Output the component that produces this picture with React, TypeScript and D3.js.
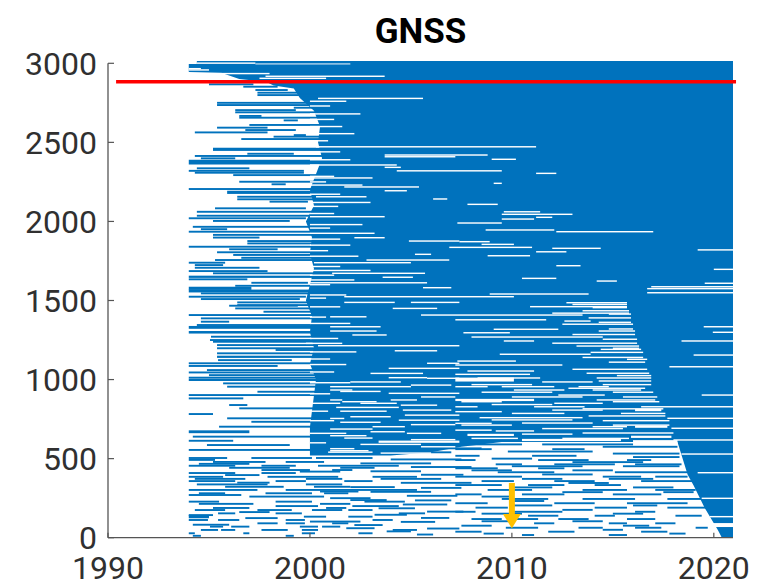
import React from "react";
import * as d3 from "d3";

// ---------- data ----------
const title = "GNSS";
const yearDomain: [number, number] = [1990, 2020.95];
const stationDomain: [number, number] = [0, 3000];
const yearTicks = [1990, 2000, 2010, 2020];
const stationTicks = [0, 500, 1000, 1500, 2000, 2500, 3000];

// reference line (station count) and marker (year)
const refStation = 2883;
const refYears: [number, number] = [1990.4, 2021.1];
const markerYear = 2010;
const markerStations = { top: 346, headBase: 150, tip: 59 };

// outline of the continuously-active block: [year, station]
const coreOutline: [number, number][] = [
  [1994.4, 3014], [2020.95, 3014], [2020.95, 0], [2020.4, 0], [2020.2, 49],
  [2019.55, 188], [2019.0, 330], [2018.7, 400], [2018.2, 605], [2009.5, 605],
  [2007.5, 575], [2006.0, 540], [2004.0, 520], [2000.0, 520],
  [2000.0, 700], [2000.3, 1000], [2000.0, 1100], [2000.2, 1200], [2000.0, 1300],
  [2000.1, 1400], [1999.8, 1500], [2000.0, 1600], [2000.2, 1700], [2000.0, 1800],
  [2000.1, 1900], [1999.8, 2000], [2000.2, 2100], [2000.0, 2200], [2000.3, 2300],
  [2000.6, 2400], [2000.4, 2500], [2000.5, 2600], [2000.2, 2700], [1999.5, 2780],
  [1999.2, 2840], [1998.2, 2860], [1997.8, 2885], [1996.5, 2900], [1995.6, 2940],
  [1994.0, 2945], [1994.0, 2995], [1994.4, 2995],
];

// active periods outside the block: [station, startYear, endYear, stationsThick?]
const activeUpper: number[][] = [
  [2867, 1995.0, 1997.2], [2852, 1996.7, 1998.4], [2831, 1997.3, 1998.9], [2814, 1997.4, 2001],
  [2799, 1997.4, 2001], [2750, 1995.4, 2001], [2736, 1995.4, 2001], [2719, 1999.2, 2001],
  [2704, 1996.3, 1999.3], [2690, 1996.3, 2001], [2667, 1996.5, 1997.6], [2656, 1996.5, 2001],
  [2639, 1998.7, 1999.4], [2610, 1997.0, 2001], [2593, 1995.4, 1997.9], [2578, 1996.8, 1999.3],
  [2563, 1994.3, 1997.9], [2546, 1999.2, 1999.8], [2536, 1998.2, 2001], [2521, 1996.6, 2001],
  [2456, 1995.2, 2001, 20], [2428, 1996.9, 1999.2], [2414, 1994.3, 2001], [2399, 1994.6, 1996.3],
  [2375, 1994.0, 2001, 30], [2336, 1994.4, 1997.0], [2320, 1994.0, 1999.7], [2308, 1994.3, 1999.7],
  [2293, 1996.2, 2001], [2251, 1996.5, 2001], [2235, 1998.1, 1998.8], [2205, 1994.0, 2001],
  [2184, 1995.9, 2001, 20], [2156, 1996.4, 2001], [2140, 1996.4, 2001], [2125, 1998.0, 1999.9],
  [2083, 1995.3, 1999.8], [2061, 1994.4, 2001], [2036, 1994.4, 2001], [2020, 1994.0, 1999.8],
  [2003, 1995.2, 1999.0], [1966, 1994.2, 2001], [1951, 1994.6, 1995.9], [1935, 1994.0, 2001],
  [1915, 1995.2, 2001], [1898, 1995.2, 1997.5], [1876, 1996.9, 2001], [1861, 1996.9, 2001],
  [1840, 1994.0, 2001], [1824, 1996.0, 1998.4], [1805, 1995.4, 2001], [1788, 1996.2, 2001],
  [1770, 1996.6, 2001], [1756, 1995.3, 2001], [1739, 1994.0, 1995.8], [1724, 1994.3, 1995.7],
  [1707, 1994.3, 1997.5], [1686, 1994.0, 1997.9], [1672, 1995.2, 2001], [1650, 1994.0, 2001, 14],
  [1634, 1994.0, 1996.9], [1612, 1997.1, 1999.9], [1593, 1996.3, 2001], [1577, 1994.0, 1997.1, 20],
  [1560, 1994.0, 2001, 18], [1545, 1994.6, 2001], [1524, 1994.0, 1999.8], [1509, 1994.6, 1999.5],
];

const activeMiddle: number[][] = [
  [1488, 1996.4, 2001], [1471, 1996.4, 2001], [1467, 1996.0, 1999.4], [1450, 1996.3, 2001],
  [1429, 1997.7, 2001], [1408, 1994.0, 2001], [1387, 1994.6, 2001], [1366, 1994.6, 1996.0],
  [1345, 1994.4, 2001], [1330, 1994.0, 2001, 18], [1299, 1994.0, 2001, 16], [1271, 1995.1, 2001],
  [1250, 1995.05, 2001], [1239, 1995.2, 2001], [1218, 1995.4, 2001], [1198, 1995.4, 2001],
  [1187, 1998.3, 2001], [1166, 1995.4, 2001], [1144, 1995.4, 2001, 14], [1123, 1995.45, 1999.1],
  [1103, 1994.0, 2001], [1086, 1994.0, 1998.4], [1060, 1994.9, 2001], [1045, 1994.0, 2001],
  [1028, 1995.0, 2001], [1012, 1994.0, 2001], [998, 1994.0, 2001, 14], [976, 1995.7, 2001],
  [955, 1995.9, 2001], [923, 1997.4, 2001], [902, 1994.0, 2001], [881, 1994.0, 1996.7],
  [839, 1996.0, 1996.9], [818, 1996.5, 2001], [782, 1994.0, 1995.2], [755, 1995.9, 2001],
  [733, 1997.1, 2001], [702, 1995.5, 2001], [670, 1994.0, 1997.0, 18], [639, 1994.2, 2001],
  [613, 1994.0, 1996.2], [586, 1994.9, 1999.0], [555, 1994.0, 2001],
  [590, 2007.5, 2010.5], [590, 2011.5, 2016.0], [575, 2014.5, 2018.2], [560, 2007.2, 2009.0],
  [560, 2012.0, 2013.6], [545, 2009.8, 2014.0], [532, 2015.0, 2018.3], [518, 2007.2, 2008.4],
  [518, 2011.0, 2013.2], [510, 2016.0, 2018.3], [565, 2006.5, 2008.5], [540, 2005.0, 2007.0],
];

const activeLower: number[][] = [
  [504, 1994.0, 1995.9], [504, 1997.1, 2000.1], [504, 2000.3, 2003.1],
  [479, 1995.2, 1997.8], [479, 1998.8, 2000.7],
  [455, 1994.0, 1996.3], [455, 1997.6, 1999.3], [455, 2000.4, 2004.4],
  [428, 1997.6, 2000.0], [428, 2001.1, 2002.1],
  [409, 1994.0, 1996.3], [409, 1997.6, 1999.3],
  [385, 1994.0, 1995.7], [385, 1997.9, 2001.4], [385, 2003.1, 2005.3],
  [358, 1994.0, 1996.3], [358, 1998.3, 1999.8], [358, 2001.7, 2003.1],
  [337, 1994.4, 1997.9], [337, 1999.8, 2001.6],
  [302, 1994.0, 1997.4], [302, 1998.8, 2005.3],
  [281, 1994.5, 1995.8], [281, 1997.8, 2000.1], [281, 2000.7, 2001.9],
  [260, 1997.0, 2000.7],
  [228, 1994.0, 1995.5], [228, 1998.3, 2000.1], [228, 2002.7, 2004.7],
  [200, 1998.3, 2000.4], [200, 2002.1, 2004.4],
  [175, 1994.3, 1995.8], [175, 1997.4, 1999.1], [175, 2000.1, 2001.6], [175, 2001.9, 2003.1],
  [154, 1995.45, 1996.3], [154, 1998.3, 1999.6], [154, 2004.4, 2005.7],
  [133, 1994.0, 1995.0, 20], [133, 1999.7, 2000.8], [133, 2001.9, 2003.1],
  [112, 1994.0, 1994.95], [112, 1995.45, 1996.5], [112, 1998.8, 1999.75], [112, 2003.1, 2004.1],
  [91, 1997.4, 1998.4], [91, 1998.8, 1999.75], [91, 2001.1, 2001.9],
  [70, 1995.05, 1995.7], [70, 1996.1, 1997.0], [70, 1999.5, 2000.4], [70, 2000.6, 2001.5],
  [49, 1994.6, 1995.45], [49, 1995.6, 1996.3], [49, 1997.6, 1998.9], [49, 1999.6, 2000.4], [49, 2004.1, 2005.3],
  [28, 1994.0, 1994.3], [28, 1996.7, 1997.0], [28, 1999.6, 2000.25], [28, 2002.4, 2003.1],
  [492, 1994.0, 1995.3], [467, 1994.5, 1997.0], [442, 1996.0, 1999.0], [442, 2001.5, 2003.2],
  [418, 1999.5, 2001.5], [396, 1995.8, 1997.5], [372, 1994.3, 1996.8], [372, 1999.8, 2001.6],
  [348, 1996.4, 1998.0], [322, 1995.8, 1998.7], [322, 2000.2, 2002.0], [292, 2000.5, 2002.4],
  [270, 1994.0, 1996.6], [250, 2001.0, 2003.0], [214, 1994.5, 1997.2], [214, 2000.5, 2002.0],
  [188, 1995.2, 1997.0], [188, 2000.8, 2001.8], [162, 1996.5, 1998.0], [143, 1994.0, 1995.2],
  [124, 1996.8, 1998.4], [102, 2000.0, 2002.5], [82, 1994.2, 1996.0], [60, 2001.8, 2003.2],
  [12, 1994.2, 1994.6], [12, 1998.8, 1999.2],
  [495, 2004.0, 2007.5], [470, 2002.5, 2006.0], [447, 2005.0, 2008.0], [420, 2003.0, 2005.5],
  [398, 2005.5, 2007.6], [372, 2003.5, 2006.5], [347, 2004.5, 2008.0], [320, 2002.0, 2004.2],
  [315, 2005.5, 2007.5], [290, 2003.0, 2006.0], [265, 2004.8, 2007.3], [238, 2002.0, 2003.8],
  [236, 2005.2, 2007.0], [210, 2004.6, 2006.8], [186, 2003.4, 2005.2], [165, 2005.8, 2007.6],
  [145, 2003.2, 2004.8], [125, 2005.5, 2006.9], [100, 2004.5, 2006.2], [80, 2002.2, 2003.6],
  [58, 2005.8, 2007.4], [40, 2003.8, 2005.0], [20, 2005.3, 2006.1],
  [491, 2007.2, 2008.2], [491, 2011.3, 2013.8], [491, 2015.7, 2016.9],
  [464, 2009.2, 2010.5], [464, 2012.1, 2015.1], [464, 2016.1, 2018.4],
  [439, 2007.2, 2009.3], [439, 2011.3, 2012.6],
  [414, 2009.3, 2012.1], [414, 2015.1, 2018.7],
  [386, 2007.2, 2010.5], [386, 2014.5, 2016.4], [386, 2017.1, 2018.7],
  [358, 2008.5, 2010.1], [358, 2012.1, 2014.1], [358, 2016.4, 2019.1],
  [333, 2007.2, 2009.5], [333, 2010.8, 2012.6], [333, 2014.1, 2015.4],
  [302, 2008.8, 2011.0], [302, 2013.5, 2015.7], [302, 2017.1, 2019.1],
  [274, 2007.2, 2008.5], [274, 2010.5, 2012.6], [274, 2015.0, 2017.4],
  [245, 2009.5, 2011.8], [245, 2013.5, 2016.1], [245, 2017.7, 2019.4],
  [218, 2007.2, 2008.8], [218, 2012.1, 2014.1], [218, 2015.7, 2018.7],
  [190, 2008.2, 2009.8], [190, 2014.1, 2015.7], [190, 2017.7, 2019.7],
  [164, 2007.2, 2008.2], [164, 2010.1, 2012.5], [164, 2016.1, 2017.1],
  [139, 2010.8, 2012.3], [139, 2014.1, 2015.1], [139, 2018.1, 2019.4],
  [118, 2008.0, 2009.5], [118, 2010.1, 2011.3], [118, 2012.3, 2013.8], [118, 2015.7, 2017.1],
  [91, 2011.1, 2012.1], [91, 2014.8, 2015.7], [91, 2017.1, 2018.1],
  [63, 2009.7, 2011.3], [63, 2013.3, 2014.5], [63, 2016.1, 2017.4], [63, 2019.1, 2019.7],
  [38, 2007.2, 2008.5], [38, 2011.8, 2013.1], [38, 2016.4, 2017.7],
  [17, 2010.5, 2011.1], [17, 2014.8, 2015.7],
  [500, 2009.0, 2011.0], [478, 2013.0, 2016.5], [452, 2010.0, 2013.5], [452, 2015.5, 2018.3],
  [426, 2008.0, 2010.0], [426, 2013.0, 2015.0], [400, 2011.5, 2014.0], [372, 2010.5, 2012.5],
  [372, 2014.8, 2017.0], [346, 2012.8, 2014.8], [318, 2010.0, 2012.0], [318, 2016.0, 2018.0],
  [288, 2012.5, 2014.5], [288, 2017.5, 2019.0], [260, 2008.5, 2010.0], [232, 2010.0, 2011.6],
  [204, 2010.0, 2012.0], [204, 2016.0, 2017.2], [176, 2012.5, 2014.0], [152, 2008.5, 2010.5],
  [152, 2015.0, 2016.5], [104, 2008.5, 2010.0], [104, 2013.0, 2014.5], [76, 2007.5, 2009.0],
  [76, 2015.5, 2016.8], [50, 2014.5, 2015.5], [26, 2008.6, 2009.6], [26, 2017.8, 2018.6],
];

// data gaps inside the active block: [station, startYear, endYear, stationsThick?]
const gapsTop: number[][] = [
  [3001, 1994.4, 1997.3], [2996, 1997.3, 2002.0, 6], [2966, 1994.0, 1994.6], [2958, 1994.0, 1995.0],
  [2935, 1995.6, 1998.0], [2918, 1997.8, 2003.7], [2905, 1997.5, 2000.8],
];

const gapsEdge: number[][] = [
  [2760, 2000.0, 2001.8], [2730, 2000.0, 2001.0], [2680, 2000.0, 2002.5], [2645, 2000.0, 2001.2],
  [2600, 2000.0, 2001.6], [2555, 2000.0, 2002.2], [2510, 2000.0, 2000.9], [2440, 2000.0, 2001.5],
  [2390, 2000.0, 2002.0], [2285, 2000.0, 2001.2], [2250, 2000.0, 2000.8], [2230, 2000.0, 2002.6],
  [2172, 2000.0, 2001.5], [2120, 2000.0, 2003.0], [2095, 2000.0, 2001.4], [2050, 2000.0, 2001.2],
  [1980, 2000.0, 2002.6], [1958, 2000.0, 2001.0], [1925, 2000.0, 2003.2], [1888, 2000.0, 2001.5],
  [1850, 2000.0, 2002.0], [1815, 2000.0, 2000.9], [1780, 2000.0, 2002.4], [1715, 2000.0, 2001.5],
  [1690, 2000.0, 2003.0], [1660, 2000.0, 2001.2], [1630, 2000.0, 2002.2], [1600, 2000.0, 2001.0],
  [1535, 2000.0, 2001.8], [1515, 2000.0, 2000.8],
  [1460, 2000.0, 2001.5], [1395, 2000.0, 2000.8], [1355, 2000.0, 2002.0], [1260, 2000.0, 2001.4],
  [1175, 2000.0, 2002.3], [1130, 2000.0, 2001.0], [1095, 2000.0, 2001.8], [1048, 2000.0, 2001.2],
  [980, 2000.0, 2002.0], [910, 2000.0, 2001.0], [850, 2000.0, 2001.5], [800, 2000.0, 2000.9],
  [740, 2000.0, 2001.2], [660, 2000.0, 2001.8], [600, 2000.0, 2000.8],
];

const gapsCore: number[][] = [
  [2778, 2000.4, 2005.6], [2472, 2000.3, 2011.2], [2420, 2003.7, 2008.8], [2409, 2003.7, 2007.2],
  [2393, 2009.0, 2010.2], [2357, 2000.0, 2004.3], [2342, 2003.7, 2004.5], [2320, 2004.3, 2009.5],
  [2304, 2011.2, 2012.2], [2275, 2000.1, 2003.1], [2241, 2009.1, 2009.5], [2218, 2001.7, 2005.4],
  [2194, 2003.7, 2004.8], [2156, 2000.3, 2002.8], [2142, 2006.1, 2006.8], [2108, 2007.8, 2009.3],
  [2061, 2009.6, 2011.4], [2045, 2009.5, 2013.0], [2030, 2000.0, 2003.7], [2026, 2011.2, 2012.0],
  [2015, 2009.5, 2011.1], [1990, 2007.3, 2009.5], [1946, 2008.7, 2012.1], [1935, 2012.2, 2017.0],
  [1897, 2002.2, 2003.7], [1876, 2004.9, 2007.4], [1872, 2007.4, 2008.9], [1855, 2008.5, 2010.1],
  [1836, 2006.9, 2011.0], [1830, 2012.0, 2014.4], [1820, 2019.2, 2020.95], [1808, 2011.2, 2012.7],
  [1792, 2005.2, 2006.0], [1783, 2008.8, 2010.9], [1756, 2002.8, 2006.9], [1739, 2000.2, 2005.0],
  [1720, 2012.2, 2013.4], [1697, 2020.0, 2020.95], [1672, 2001.1, 2005.7], [1647, 2003.6, 2005.1],
  [1640, 2010.5, 2012.2], [1623, 2014.2, 2015.2], [1612, 2000.0, 2005.8], [1609, 2019.55, 2020.95],
  [1587, 2016.9, 2020.95], [1581, 2005.6, 2007.0], [1575, 2016.7, 2020.95], [1549, 2016.7, 2020.95],
  [1541, 2008.9, 2013.8], [1524, 2001.7, 2010.1],
  [1488, 2001.7, 2004.2], [1488, 2005.0, 2007.4], [1486, 2012.7, 2015.7], [1461, 2010.9, 2015.7],
  [1450, 2004.1, 2006.3], [1435, 2013.5, 2015.8], [1414, 2014.8, 2015.9], [1408, 2005.5, 2013.5],
  [1397, 2001.0, 2002.8], [1378, 2007.2, 2011.7], [1370, 2012.6, 2013.9], [1362, 2014.3, 2015.9],
  [1334, 2001.0, 2003.5], [1334, 2019.5, 2020.95], [1318, 2009.1, 2012.3], [1307, 2001.0, 2003.3],
  [1307, 2014.3, 2016.1], [1299, 2019.95, 2020.95], [1296, 2007.6, 2009.9], [1282, 2002.1, 2003.8],
  [1269, 2008.0, 2014.5], [1244, 2009.6, 2011.1], [1244, 2018.4, 2020.95], [1229, 1999.8, 2001.6],
  [1214, 2000.4, 2007.4], [1212, 2013.2, 2016.3], [1191, 2014.4, 2016.4], [1182, 2004.2, 2006.3],
  [1172, 2013.9, 2016.5], [1160, 2009.4, 2013.9], [1155, 2019.0, 2020.95], [1128, 2015.7, 2016.7],
  [1117, 2007.3, 2010.2], [1103, 2005.8, 2007.4], [1092, 2007.2, 2012.5], [1081, 2017.8, 2020.95],
  [1071, 2003.9, 2007.4], [1054, 2007.8, 2011.1], [1040, 2013.7, 2016.8], [1039, 2003.0, 2005.6],
  [1033, 2007.2, 2010.9], [1012, 2003.9, 2005.8], [1010, 2008.3, 2011.4], [1010, 2014.2, 2016.9],
  [1008, 2005.8, 2007.4], [1000, 2007.2, 2010.1, 25], [991, 2014.3, 2016.9],
  [1475, 2013.0, 2015.7], [1455, 2014.0, 2015.7], [1420, 2012.0, 2015.8], [1390, 2013.8, 2015.9],
  [1350, 2012.5, 2016.0], [1320, 2014.8, 2016.0], [1285, 2013.0, 2016.1], [1255, 2014.5, 2016.2],
  [1230, 2012.0, 2016.2], [1198, 2015.0, 2016.3], [1140, 2013.5, 2016.5], [1110, 2014.8, 2016.6],
  [1065, 2013.0, 2016.7], [1025, 2015.2, 2016.9],
  [955, 2001.0, 2005.0], [955, 2007.2, 2008.8], [955, 2009.5, 2012.1], [955, 2013.3, 2014.8],
  [934, 2001.0, 2002.1], [934, 2010.1, 2012.6], [934, 2014.0, 2016.4], [913, 2003.9, 2007.4],
  [902, 2012.3, 2014.6], [902, 2019.4, 2020.95], [871, 2001.0, 2001.6], [871, 2004.0, 2005.3],
  [871, 2007.2, 2011.1, 14], [871, 2014.2, 2017.1], [860, 2001.6, 2003.3], [850, 2012.1, 2014.5],
  [838, 2004.5, 2006.3], [828, 2007.2, 2008.3], [828, 2011.1, 2013.6], [828, 2016.4, 2020.95],
  [824, 2001.3, 2004.4], [807, 2004.6, 2007.0], [807, 2012.0, 2014.5], [807, 2016.1, 2017.4, 14],
  [786, 2010.0, 2012.6], [786, 2015.4, 2017.6], [775, 2004.7, 2007.4], [759, 2008.4, 2013.5],
  [755, 2017.7, 2020.95], [754, 2001.0, 2001.7], [743, 2004.4, 2007.4], [723, 2007.2, 2009.0],
  [702, 2003.1, 2004.7], [702, 2014.0, 2015.7], [702, 2016.1, 2017.7, 14], [692, 2017.9, 2020.95],
  [687, 2001.0, 2003.1], [675, 2009.2, 2011.1], [670, 2003.0, 2004.7], [650, 2007.8, 2010.1, 14],
  [638, 2015.9, 2017.9, 14], [630, 2001.7, 2003.1], [618, 2010.5, 2015.4, 14], [618, 2018.0, 2020.95],
  [607, 2003.4, 2007.4, 14], [597, 2016.2, 2018.2, 14], [563, 2001.0, 2002.2], [550, 2001.0, 2002.9],
  [541, 2000.9, 2003.1], [529, 2018.4, 2020.95],
  [985, 2011.5, 2014.0], [968, 2008.0, 2011.0], [968, 2014.5, 2016.9], [945, 2012.8, 2016.6],
  [920, 2008.5, 2012.0], [920, 2015.0, 2017.0], [890, 2010.0, 2013.5], [890, 2015.5, 2017.2],
  [860, 2007.5, 2009.5], [860, 2015.0, 2017.3], [842, 2009.0, 2012.0], [815, 2013.5, 2017.5],
  [797, 2007.2, 2009.5], [770, 2013.8, 2017.6], [745, 2009.0, 2013.0], [740, 2014.5, 2017.8],
  [725, 2010.5, 2014.0], [712, 2007.5, 2010.0], [712, 2015.0, 2017.8], [690, 2011.5, 2015.5],
  [680, 2007.2, 2009.0], [662, 2013.5, 2018.0], [655, 2010.5, 2013.0], [628, 2008.0, 2010.3],
  [628, 2012.5, 2015.8], [610, 2016.0, 2018.2, 14],
  [985, 2002.0, 2004.5], [965, 2005.0, 2007.0], [925, 2001.5, 2003.5], [890, 2005.5, 2007.2],
  [850, 2002.5, 2004.3], [800, 2001.5, 2003.8], [765, 2002.0, 2004.0], [730, 2001.5, 2003.5],
  [715, 2005.0, 2007.2], [660, 2004.8, 2006.5], [645, 2001.0, 2002.8], [620, 2005.0, 2007.2],
  [590, 2002.5, 2005.5], [575, 2005.5, 2007.2], [535, 2003.5, 2006.0],
  [411, 2019.2, 2020.95], [249, 2019.4, 2020.95], [133, 2019.8, 2020.95], [80, 2019.9, 2020.95, 25],
];

// ---------- chart ----------
const BLUE = "#0072BD";
const FONT = "Roboto, 'DejaVu Sans', sans-serif";

export default function App() {
  const x = d3.scaleLinear().domain(yearDomain).range([108, 733]);
  const y = d3.scaleLinear().domain(stationDomain).range([537.7, 63.3]);
  const rowH = Math.abs(y(1) - y(0));

  const corePath =
    (d3
      .line<[number, number]>()
      .x((d) => x(d[0]))
      .y((d) => y(d[1]))(coreOutline) || "") + "Z";

  const seg = (arr: number[][], defRows: number, fill: string, key: string) =>
    arr.map((d, i) => {
      const rows = d[3] ?? defRows;
      return (
        <rect
          key={key + i}
          x={x(d[1])}
          y={y(d[0] + rows / 2)}
          width={Math.max(0.5, x(d[2]) - x(d[1]))}
          height={rows * rowH}
          fill={fill}
        />
      );
    });

  const mx = x(markerYear);
  const axisColor = "#555";
  const textColor = "#303030";

  return (
    <svg
      width={768}
      height={586}
      style={{ position: "absolute", left: 0, top: 0, background: "#fff" }}
      fontFamily={FONT}
    >
      <rect width={768} height={586} fill="#fff" />
      <path d={corePath} fill={BLUE} />
      {seg(activeUpper, 12, BLUE, "au")}
      {seg(activeMiddle, 12, BLUE, "am")}
      {seg(activeLower, 12, BLUE, "al")}
      {seg(gapsTop, 9, "#fff", "gt")}
      {seg(gapsEdge, 9, "#fff", "ge")}
      {seg(gapsCore, 9, "#fff", "gc")}

      {/* reference line */}
      <line
        x1={x(refYears[0])}
        x2={x(refYears[1])}
        y1={y(refStation)}
        y2={y(refStation)}
        stroke="#ff0000"
        strokeWidth={3.5}
      />

      {/* axes */}
      <line x1={x(1990)} x2={x(1990)} y1={y(3000)} y2={y(0)} stroke={axisColor} strokeWidth={1.3} />
      <line x1={x(1990)} x2={x(yearDomain[1])} y1={y(0)} y2={y(0)} stroke={axisColor} strokeWidth={1.3} />
      {stationTicks.map((t) => (
        <g key={"yt" + t}>
          <line x1={x(1990)} x2={x(1990) + 6} y1={y(t)} y2={y(t)} stroke={axisColor} strokeWidth={1.2} />
          <text x={97} y={y(t) + 11.5} textAnchor="end" fontSize={32} fill={textColor}>
            {t}
          </text>
        </g>
      ))}
      {yearTicks.map((t) => (
        <g key={"xt" + t}>
          <line x1={x(t)} x2={x(t)} y1={y(0)} y2={y(0) - 5} stroke={axisColor} strokeWidth={1.2} />
          <text x={x(t)} y={579} textAnchor="middle" fontSize={32} fill={textColor}>
            {t}
          </text>
        </g>
      ))}

      {/* marker arrow */}
      <rect
        x={mx - 3}
        y={y(markerStations.top)}
        width={6}
        height={y(markerStations.headBase) - y(markerStations.top)}
        fill="#FFC000"
      />
      <path
        d={`M${mx - 9},${y(markerStations.headBase)} L${mx + 9},${y(markerStations.headBase)} L${mx},${y(markerStations.tip)} Z`}
        fill="#FFC000"
      />

      <text x={420.5} y={43.3} textAnchor="middle" fontSize={35} fontWeight="bold" fill="#000">
        {title}
      </text>
    </svg>
  );
}
